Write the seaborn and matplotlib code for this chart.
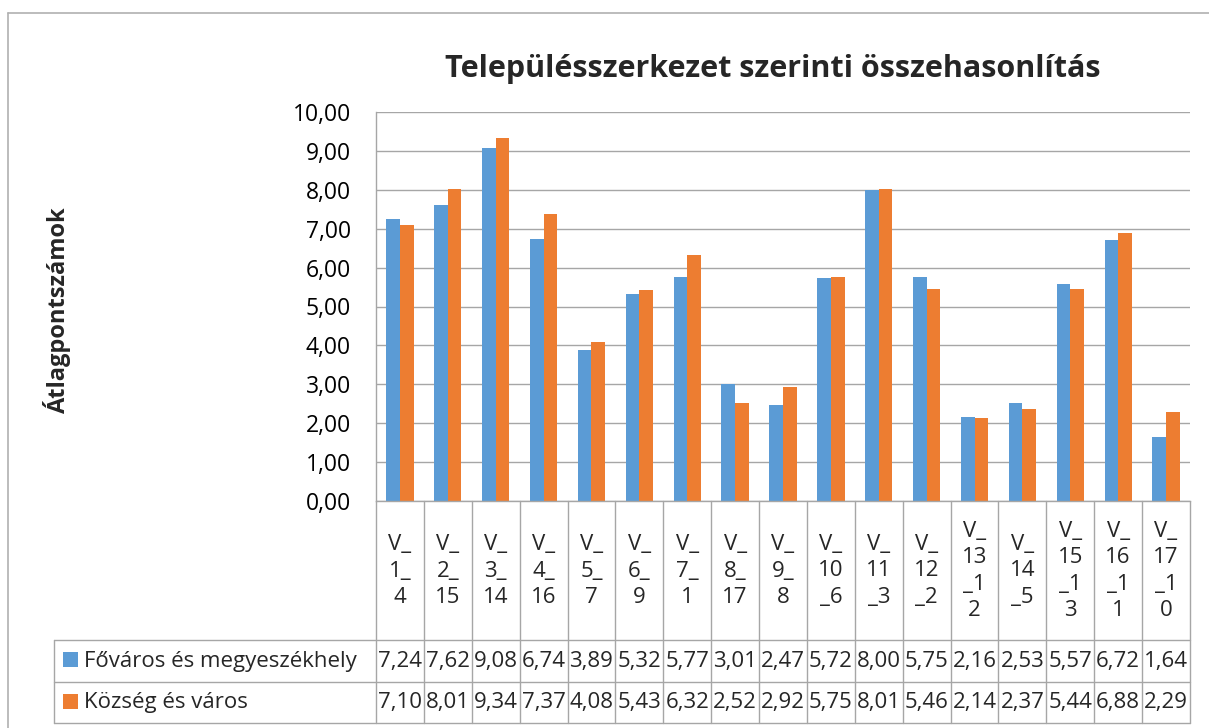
import matplotlib
matplotlib.use("Agg")
import matplotlib.pyplot as plt
from matplotlib.lines import Line2D
from matplotlib.patches import Rectangle
import matplotlib.transforms as mtransforms
import seaborn as sns
import pandas as pd

categories = ["V_1_4", "V_2_15", "V_3_14", "V_4_16", "V_5_7", "V_6_9", "V_7_1",
              "V_8_17", "V_9_8", "V_10_6", "V_11_3", "V_12_2", "V_13_12",
              "V_14_5", "V_15_13", "V_16_11", "V_17_10"]
fovaros = [7.24, 7.62, 9.08, 6.74, 3.89, 5.32, 5.77, 3.01, 2.47, 5.72, 8.00,
           5.75, 2.16, 2.53, 5.57, 6.72, 1.64]
kozseg = [7.10, 8.01, 9.34, 7.37, 4.08, 5.43, 6.32, 2.52, 2.92, 5.75, 8.01,
          5.46, 2.14, 2.37, 5.44, 6.88, 2.29]
series_names = ["Főváros és megyeszékhely", "Község és város"]
series_values = [fovaros, kozseg]
colors = ["#5B9BD5", "#ED7D31"]
y_ticks = [0, 1, 2, 3, 4, 5, 6, 7, 8, 9, 10]

title = "Településszerkezet szerinti összehasonlítás"
y_label = "Átlagpontszámok"

df = pd.DataFrame({
    "kategoria": categories * 2,
    "sorozat": [series_names[0]] * len(categories) + [series_names[1]] * len(categories),
    "ertek": fovaros + kozseg,
})

sns.set_theme(style="white")
plt.rcParams["font.family"] = ["Open Sans", "DejaVu Sans"]

W, H = 1209, 728
fig = plt.figure(figsize=(W / 100, H / 100), dpi=100)
fig.patch.set_facecolor("white")

# plot area in pixel coordinates
px_left, px_right, px_top, px_bottom = 376, 1190, 112, 501
ax = fig.add_axes([px_left / W, 1 - px_bottom / H,
                   (px_right - px_left) / W, (px_bottom - px_top) / H])

sns.barplot(data=df, x="kategoria", y="ertek", hue="sorozat",
            hue_order=series_names, order=categories, palette=colors,
            width=0.57, saturation=1, ax=ax, legend=False, linewidth=0)

grid_c = "#A6A6A6"
ax.set_ylim(0, 10)
ax.set_xlim(-0.5, len(categories) - 0.5)
ax.set_yticks(y_ticks)
ax.set_yticklabels([f"{v:.2f}".replace(".", ",") for v in y_ticks], fontsize=16.5)
ax.tick_params(axis="y", length=0, pad=18, colors="black")
ax.set_xticks([])
ax.set_xlabel("")
ax.set_ylabel("")
ax.yaxis.grid(True, color=grid_c, linewidth=1)
ax.set_axisbelow(True)
for s in ["top", "right"]:
    ax.spines[s].set_visible(False)
for s in ["left", "bottom"]:
    ax.spines[s].set_color(grid_c)
    ax.spines[s].set_linewidth(1)

# data table under the plot
ax_h = px_bottom - px_top
ax_w = px_right - px_left
def ay(py):
    return (px_bottom - py) / ax_h
def axx(px):
    return (px - px_left) / ax_w

row_cat_bottom, row1_bottom, row2_bottom = 640, 682, 723
label_left = 54
blend = mtransforms.blended_transform_factory(ax.transData, ax.transAxes)

def hline(y_px, x0, x1):
    ax.add_line(Line2D([axx(x0), axx(x1)], [ay(y_px)] * 2, transform=ax.transAxes,
                       color=grid_c, linewidth=1, clip_on=False))

for y_px in [row_cat_bottom, row1_bottom, row2_bottom]:
    hline(y_px, label_left, px_right)
ax.add_line(Line2D([axx(label_left)] * 2, [ay(row_cat_bottom), ay(row2_bottom)],
                   transform=ax.transAxes, color=grid_c, linewidth=1, clip_on=False))
for k in range(len(categories) + 1):
    ax.add_line(Line2D([k - 0.5] * 2, [0, ay(row2_bottom)], transform=blend,
                       color=grid_c, linewidth=1, clip_on=False))

# category labels wrapped two characters per line
for i, cat in enumerate(categories):
    wrapped = "\n".join(cat[j:j + 2] for j in range(0, len(cat), 2))
    ax.text(i, ay(571), wrapped, transform=blend,
            ha="center", va="center", multialignment="center", fontsize=16,
            linespacing=1.35, clip_on=False)

row_centers = [(row_cat_bottom + row1_bottom) / 2, (row1_bottom + row2_bottom) / 2]
for name, vals, col, yc in zip(series_names, series_values, colors, row_centers):
    ax.add_patch(Rectangle((axx(63), ay(yc + 6)), axx(78) - axx(63), ay(yc - 9) - ay(yc + 6),
                           transform=ax.transAxes, facecolor=col, edgecolor="none",
                           clip_on=False))
    ax.text(axx(84), ay(yc), name, transform=ax.transAxes, ha="left", va="center",
            fontsize=16, clip_on=False)
    for i, v in enumerate(vals):
        ax.text(i, ay(yc), f"{v:.2f}".replace(".", ","), transform=blend,
                ha="center", va="center", fontsize=16, clip_on=False)

fig.text(773 / W, 1 - 77 / H, title, ha="center", va="baseline",
         fontsize=22, fontweight="bold")
fig.text(57 / W, 1 - 310 / H, y_label, ha="center", va="center", rotation=90,
         fontsize=17, fontweight="bold")

# outer chart frame
frame_c = "#B0B0B0"
fig.add_artist(Line2D([7.5 / W, 7.5 / W], [1 - 13 / H, 0], transform=fig.transFigure,
                      color=frame_c, linewidth=1.2))
fig.add_artist(Line2D([7.5 / W, 1], [1 - 13 / H, 1 - 13 / H], transform=fig.transFigure,
                      color=frame_c, linewidth=1.2))

fig.savefig("out.png", dpi=100, facecolor="white")
